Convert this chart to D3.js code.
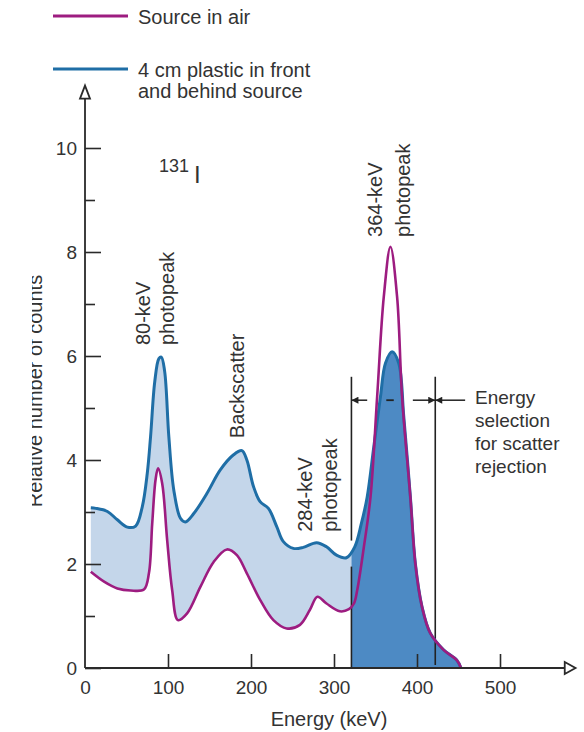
<!DOCTYPE html>
<meta charset="utf-8">
<style>
  body { margin: 0; background: #fff; }
  svg text { font-family: "Liberation Sans", Arial, Helvetica, sans-serif; fill: #333; }
</style>
<svg width="584" height="732"></svg>
<script src="https://d3js.org/d3.v7.min.js"></script>
<script>

// spectrum of the source in air (keV, relative counts)
var airEnergy = [7, 23, 39, 55, 71, 77, 81, 85, 88, 93, 99, 105, 112, 123, 139, 155, 171, 183, 195, 211, 227, 243, 259, 271, 280, 291, 307, 318, 324, 328, 336, 344, 352, 360, 368, 376, 382, 392, 398, 406, 416, 432, 448, 453];
var airCounts = [1.85, 1.66, 1.53, 1.49, 1.51, 1.82, 2.78, 3.62, 3.84, 3.55, 2.46, 1.5, 0.92, 1.05, 1.56, 2.04, 2.28, 2.17, 1.82, 1.31, 0.92, 0.76, 0.83, 1.12, 1.37, 1.24, 1.09, 1.13, 1.24, 1.5, 2.33, 3.29, 5.22, 7.14, 8.1, 7.14, 5.22, 3.29, 2.01, 1.18, 0.67, 0.35, 0.15, 0];

// spectrum with 4 cm plastic in front and behind source
var plasticEnergy = [7, 13, 27, 39, 51, 61, 69, 75, 79, 84, 89, 92, 96, 101, 107, 115, 121, 131, 147, 163, 179, 189, 195, 203, 211, 221, 231, 239, 251, 263, 279, 291, 303, 315, 325, 333, 340, 348, 356, 362, 370, 378, 384, 392, 398, 406, 416, 432, 448, 453];
var plasticCounts = [3.08, 3.07, 3.01, 2.85, 2.71, 2.73, 3.1, 3.74, 4.45, 5.5, 5.95, 5.98, 5.7, 4.45, 3.42, 2.88, 2.81, 2.97, 3.36, 3.81, 4.1, 4.18, 4.0, 3.49, 3.2, 3.07, 2.72, 2.43, 2.3, 2.32, 2.41, 2.33, 2.17, 2.12, 2.33, 2.78, 3.29, 4.26, 5.22, 5.86, 6.08, 5.86, 4.85, 3.29, 2.01, 1.18, 0.67, 0.35, 0.15, 0];

// energy window for scatter rejection (keV)
var windowLow = 321, windowHigh = 422;

var xTicks = [0, 100, 200, 300, 400, 500];
var yMajor = [0, 2, 4, 6, 8, 10];
var yMinor = [1, 3, 5, 7, 9];

var legendLabels = [["Source in air"], ["4 cm plastic in front", "and behind source"]];

var labels = [
  {text: "80-keV", e: 78, c: 6.21},
  {text: "photopeak", e: 107, c: 6.21},
  {text: "Backscatter", e: 192, c: 4.42},
  {text: "284-keV", e: 273, c: 2.62},
  {text: "photopeak", e: 304, c: 2.62},
  {text: "364-keV", e: 358, c: 8.29},
  {text: "photopeak", e: 391, c: 8.29}
];
var windowText = ["Energy", "selection", "for scatter", "rejection"];

var purple = "#9d1c80", blue = "#1f6ea6", lightFill = "#c4d6ea", darkFill = "#4d8ac4";

var svg = d3.select("svg");

var x = d3.scaleLinear().domain([0, 500]).range([85, 500]);
var y = d3.scaleLinear().domain([0, 10]).range([668, 148]);

var air = airEnergy.map(function(e, i) { return [e, airCounts[i]]; });
var plastic = plasticEnergy.map(function(e, i) { return [e, plasticCounts[i]]; });

var line = d3.line()
    .x(function(d) { return x(d[0]); })
    .y(function(d) { return y(d[1]); })
    .curve(d3.curveCatmullRom.alpha(0.5));

var defs = svg.append("defs");
defs.append("clipPath").attr("id", "below")
  .append("rect")
    .attr("x", 0).attr("y", 0)
    .attr("width", x(windowLow)).attr("height", 732);
defs.append("clipPath").attr("id", "inside")
  .append("rect")
    .attr("x", x(windowLow)).attr("y", 0)
    .attr("width", 584 - x(windowLow)).attr("height", y(0));
defs.append("clipPath").attr("id", "ylab")
  .append("rect")
    .attr("x", 32).attr("y", 0)
    .attr("width", 60).attr("height", 732);
defs.append("marker")
    .attr("id", "head")
    .attr("viewBox", "0 0 10 10")
    .attr("refX", 10).attr("refY", 5)
    .attr("markerWidth", 10).attr("markerHeight", 7)
    .attr("markerUnits", "userSpaceOnUse")
    .attr("orient", "auto")
  .append("path")
    .attr("d", "M0,0L10,5L0,10Z")
    .attr("fill", "#222");

// light band between the two spectra
var band = line(plastic) + "L" + line(air.slice().reverse()).slice(1) + "Z";
svg.append("path")
    .attr("d", band)
    .attr("fill", lightFill)
    .attr("clip-path", "url(#below)");

// counts accepted by the window
svg.append("path")
    .datum(plastic)
    .attr("d", d3.area()
        .x(function(d) { return x(d[0]); })
        .y0(y(0))
        .y1(function(d) { return y(d[1]); })
        .curve(d3.curveCatmullRom.alpha(0.5)))
    .attr("fill", darkFill)
    .attr("clip-path", "url(#inside)");

// window lines (the low one is broken where the blue curve crosses)
svg.selectAll(".win")
  .data([[windowLow, 5.6, 2.45], [windowLow, 1.95, 0], [windowHigh, 5.6, 0.06]])
  .enter().append("line")
    .attr("x1", function(d) { return x(d[0]); })
    .attr("x2", function(d) { return x(d[0]); })
    .attr("y1", function(d) { return y(d[1]); })
    .attr("y2", function(d) { return y(d[2]); })
    .attr("stroke", "#222")
    .attr("stroke-width", 1.6);

svg.append("path")
    .datum(plastic)
    .attr("d", line)
    .attr("fill", "none")
    .attr("stroke", blue)
    .attr("stroke-width", 3);

svg.append("path")
    .datum(air)
    .attr("d", line)
    .attr("fill", "none")
    .attr("stroke", purple)
    .attr("stroke-width", 2.6);

var arrowY = y(5.15);
svg.selectAll(".arr")
  .data([[340, windowLow], [395, windowHigh], [458, windowHigh]])
  .enter().append("line")
    .attr("x1", function(d) { return x(d[0]); })
    .attr("x2", function(d) { return x(d[1]); })
    .attr("y1", arrowY).attr("y2", arrowY)
    .attr("stroke", "#222")
    .attr("stroke-width", 1.5)
    .attr("marker-end", "url(#head)");

svg.append("line")
    .attr("x1", x(363)).attr("x2", x(372))
    .attr("y1", arrowY).attr("y2", arrowY)
    .attr("stroke", "#222")
    .attr("stroke-width", 1.8);

svg.append("g")
  .selectAll("text")
  .data(windowText)
  .enter().append("text")
    .attr("x", 475)
    .attr("y", function(d, i) { return 404 + i * 23; })
    .attr("font-size", 19)
    .text(function(d) { return d; });

// axes
var axisColor = "#2a2a2a";

var gy = svg.append("g")
    .attr("transform", "translate(" + x(0) + ",0)")
    .call(d3.axisLeft(y).tickValues(yMajor).tickSize(-16).tickPadding(8));
gy.select(".domain").remove();
gy.selectAll("line").attr("stroke", axisColor).attr("stroke-width", 1.6);
gy.selectAll("text").attr("font-size", 19).attr("fill", "#333").attr("font-family", null);

var gy2 = svg.append("g")
    .attr("transform", "translate(" + x(0) + ",0)")
    .call(d3.axisLeft(y).tickValues(yMinor).tickSize(-10).tickFormat(""));
gy2.select(".domain").remove();
gy2.selectAll("line").attr("stroke", axisColor).attr("stroke-width", 1.6);

var gx = svg.append("g")
    .attr("transform", "translate(0," + y(0) + ")")
    .call(d3.axisBottom(x).tickValues(xTicks).tickSize(-14).tickPadding(13));
gx.select(".domain").remove();
gx.selectAll("line").attr("stroke", axisColor).attr("stroke-width", 1.6);
gx.selectAll(".tick").filter(function(d) { return d === 0; }).select("line").remove();
gx.selectAll("text").attr("font-size", 19).attr("fill", "#333").attr("font-family", null);

// axis lines with open arrowheads
svg.append("path")
    .attr("d", "M" + x(0) + "," + y(0) + "H" + x(578) + "M" + x(0) + "," + y(0) + "V" + y(10.95))
    .attr("fill", "none")
    .attr("stroke", axisColor)
    .attr("stroke-width", 1.8);
svg.append("path")
    .attr("d", "M" + x(578) + "," + (y(0) - 6) + "L" + x(591) + "," + y(0) + "L" + x(578) + "," + (y(0) + 6) + "Z")
    .attr("fill", "#fff")
    .attr("stroke", axisColor)
    .attr("stroke-width", 1.8);
svg.append("path")
    .attr("d", "M" + (x(0) - 5) + "," + y(10.95) + "L" + x(0) + "," + y(11.2) + "L" + (x(0) + 5) + "," + y(10.95) + "Z")
    .attr("fill", "#fff")
    .attr("stroke", axisColor)
    .attr("stroke-width", 1.8);

svg.append("text")
    .attr("x", 329)
    .attr("y", 726)
    .attr("text-anchor", "middle")
    .attr("font-size", 20)
    .text("Energy (keV)");

svg.append("g")
    .attr("clip-path", "url(#ylab)")
  .append("text")
    .attr("transform", "translate(42,391) rotate(-90)")
    .attr("text-anchor", "middle")
    .attr("font-size", 20)
    .text("Relative number of counts");

// nuclide label
svg.append("text").attr("x", 159).attr("y", 172).attr("font-size", 18).text("131");
svg.append("text").attr("x", 194).attr("y", 183).attr("font-size", 24).text("I");

// peak labels
svg.append("g")
  .selectAll("text")
  .data(labels)
  .enter().append("text")
    .attr("transform", function(d) { return "translate(" + x(d.e) + "," + y(d.c) + ") rotate(-90)"; })
    .attr("font-size", 20)
    .text(function(d) { return d.text; });

// legend
var legend = svg.append("g");
var legendRows = legend.selectAll("g")
  .data(legendLabels)
  .enter().append("g")
    .attr("transform", function(d, i) { return "translate(0," + (i === 0 ? 16 : 69) + ")"; });
legendRows.append("line")
    .attr("x1", 53).attr("x2", 128)
    .attr("stroke", function(d, i) { return i === 0 ? purple : blue; })
    .attr("stroke-width", 3);
legendRows.selectAll("text")
  .data(function(d) { return d; })
  .enter().append("text")
    .attr("x", 138)
    .attr("y", function(d, i) { return 8 + i * 21; })
    .attr("font-size", 20)
    .text(function(d) { return d; });

</script>
